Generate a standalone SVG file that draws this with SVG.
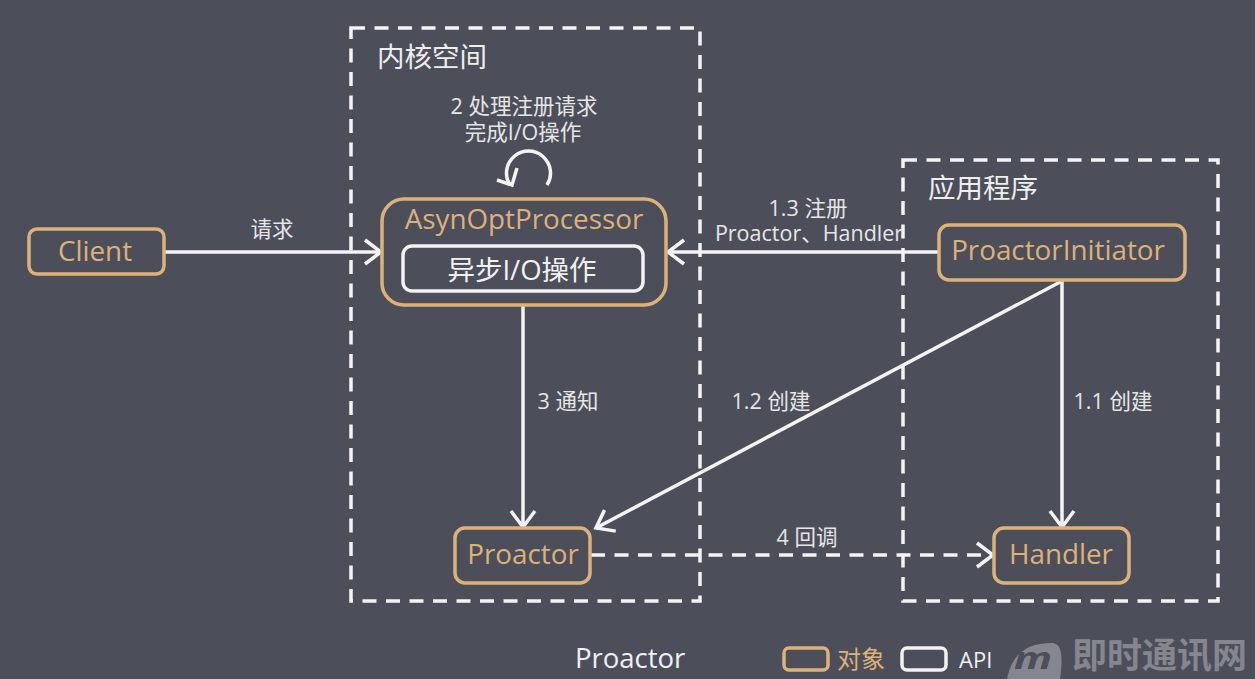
<svg xmlns="http://www.w3.org/2000/svg" width="1255" height="679" viewBox="0 0 1255 679">
<style>
text{font-family:"Open Sans","Noto Sans CJK SC",sans-serif}
.obj{fill:#4c4e5a;stroke:#dcb27a;stroke-width:3.5}
.api{fill:#4c4e5a;stroke:#f2f2f4;stroke-width:3.5}
.zone{fill:none;stroke:#f4f4f6;stroke-width:3.5;stroke-dasharray:14 9.5}
.lbl{fill:#e6e6e8;font-size:21.5px;text-anchor:middle}
.title{fill:#eeeeef;font-size:27.5px}
.otxt{fill:#dcb27a;font-size:27.8px;text-anchor:middle}
.wtxt{fill:#f2f2f4;font-size:27.5px;text-anchor:middle}
.wm{fill:#85868f}
.line{fill:none;stroke:#f4f4f6;stroke-width:3.5}
</style>
<defs>
<marker id="arr" markerUnits="userSpaceOnUse" markerWidth="24" markerHeight="30" refX="20" refY="15" orient="auto">
<path d="M4 3L20 15L4 27" fill="none" stroke="#f4f4f6" stroke-width="3.5"/>
</marker>
</defs>
<rect width="1255" height="679" fill="#4c4e5a"/>
<g id="zones">
<g id="kernel"><rect class="zone" x="351" y="28" width="349" height="573"/><text class="title" x="377" y="67">内核空间</text></g>
<g id="app"><rect class="zone" x="903" y="160" width="315" height="441"/><text class="title" x="928" y="198">应用程序</text></g>
</g>
<g id="connectors">
<path class="line" d="M164 252H381" marker-end="url(#arr)"/>
<path class="line" d="M939 252H668" marker-end="url(#arr)"/>
<path class="line" d="M523 305V527" marker-end="url(#arr)"/>
<path class="line" d="M1062 281L596 528" marker-end="url(#arr)"/>
<path class="line" d="M1062 281V527" marker-end="url(#arr)"/>
<path class="line" d="M591 555H993" stroke-dasharray="14 9.5" marker-end="url(#arr)"/>
<path class="line" d="M547 185A22 22 0 1 0 510 185"/>
<path class="line" d="M497 180L512 185L517 168"/>
</g>
<g id="labels">
<text class="lbl" x="272" y="237">请求</text>
<text class="lbl"><tspan x="524" y="114">2 处理注册请求</tspan><tspan x="523" y="140">完成I/O操作</tspan></text>
<text class="lbl"><tspan x="808" y="216">1.3 注册</tspan><tspan x="809" y="241">Proactor、Handler</tspan></text>
<text class="lbl" x="568" y="409">3 通知</text>
<text class="lbl" x="771" y="409">1.2 创建</text>
<text class="lbl" x="1113" y="409">1.1 创建</text>
<text class="lbl" x="807" y="545">4 回调</text>
</g>
<g id="client"><rect class="obj" x="29" y="229" width="135" height="45" rx="8"/><text class="otxt" x="95" y="261">Client</text></g>
<g id="asyn"><rect class="obj" x="382" y="199" width="284" height="106" rx="22"/><text class="otxt" x="524" y="229">AsynOptProcessor</text></g>
<g id="asyncio"><rect class="api" x="403" y="246" width="240" height="45" rx="9"/><text class="wtxt" x="522" y="280">异步I/O操作</text></g>
<g id="initiator"><rect class="obj" x="939" y="225" width="246" height="55" rx="10"/><text class="otxt" x="1058" y="260">ProactorInitiator</text></g>
<g id="proactor"><rect class="obj" x="455" y="528" width="135" height="55" rx="10"/><text class="otxt" x="523" y="564">Proactor</text></g>
<g id="handler"><rect class="obj" x="994" y="528" width="135" height="55" rx="10"/><text class="otxt" x="1061" y="564">Handler</text></g>
<g id="legend">
<text x="575" y="668" fill="#f0f0f2" font-size="27.5px">Proactor</text>
<rect x="784" y="648" width="44" height="22" rx="5" fill="none" stroke="#dcb27a" stroke-width="3.5"/>
<text x="837" y="668" fill="#dcb27a" font-size="24px">对象</text>
<rect x="902" y="648" width="44" height="22" rx="5" fill="none" stroke="#f2f2f4" stroke-width="3.5"/>
<text x="959" y="668" fill="#f0f0f2" font-size="22px">API</text>
</g>
<g id="watermark">
<path class="wm" d="M1007 679C1012 655 1025 643 1052 643C1060 643 1064 652 1060 679Z"/>
<text x="1014" y="669" fill="#4c4e5a" font-size="31px" font-style="italic" font-weight="700" textLength="38" lengthAdjust="spacingAndGlyphs">m</text>
<text class="wm" x="1072" y="668" font-size="35px" font-weight="700">即时通讯网</text>
</g>
</svg>
